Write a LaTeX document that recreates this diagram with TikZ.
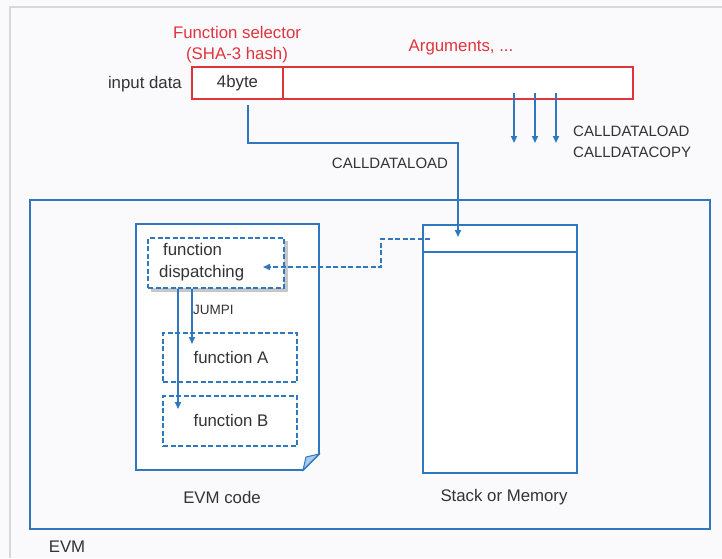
\documentclass[tikz,border=0pt]{standalone}
\usepackage{fontspec}
\setmainfont{Liberation Sans}
\usetikzlibrary{arrows.meta}
\definecolor{bg}{HTML}{FAFAFD}
\definecolor{frame}{HTML}{D8D8D8}
\definecolor{evmblue}{HTML}{2F78C0}
\definecolor{selred}{HTML}{E0343C}
\definecolor{txt}{HTML}{333333}
\definecolor{foldblue}{HTML}{A9CBEB}
\begin{document}
\begin{tikzpicture}[x=1pt,y=-1pt,
  lbl/.style={text=txt,font=\fontsize{16.8}{20}\selectfont,inner sep=0pt},
  caps/.style={text=txt,font=\fontsize{15}{18}\selectfont,inner sep=0pt},
  redlbl/.style={text=selred,font=\fontsize{16.8}{20}\selectfont,inner sep=0pt},
  redbox/.style={draw=selred,line width=1.8pt,fill=white,inner sep=0pt},
  bluebox/.style={draw=evmblue,line width=1.8pt,inner sep=0pt},
  dashbox/.style={draw=evmblue,line width=1.6pt,dash pattern=on 5pt off 2.5pt,fill=white,inner sep=0pt},
  wire/.style={draw=evmblue,line width=1.6pt},
  tip/.style={-{Triangle[length=7pt,width=6pt]}}
]
% page and its grey frame
\useasboundingbox (0,0) rectangle (722,558);
\fill[bg] (0,0) rectangle (722,558);
\draw[frame,line width=2pt] (10,558) -- (10,6.5) -- (722,6.5);

% input data row
\node[lbl,anchor=east] (inlbl) at (182,84) {input data};
\node[redbox,minimum width=350pt,minimum height=32pt] (args) at (458,83) {};
\node[redbox,minimum width=91pt,minimum height=32pt] (sel) at (237.5,83) {};
\node[lbl] (fourbyte) at (sel.center) {4byte};
\node[redlbl] (selname) at (237,32) {Function selector};
\node[redlbl] (selhash) at (237,55) {(SHA-3 hash)};
\node[redlbl] (argname) at (461,47) {Arguments, ...};

% loading the arguments
\foreach \i/\x in {1/514,2/535,3/556}{
  \coordinate (ld\i) at (\x,93);
  \coordinate (le\i) at (\x,143);
  \draw[wire,tip] (ld\i) -- (le\i);
}
\node[caps,anchor=west,align=left] (cdlbl) at (573,142) {CALLDATALOAD\\[3pt]CALLDATACOPY};

% EVM frame
\node[bluebox,minimum width=680pt,minimum height=329pt] (evm) at (370,364.5) {};
\node[lbl] (evmlbl) at (67,547) {EVM};

% EVM code sheet with folded corner
\draw[bluebox,fill=white] (136,224) -- (319,224) -- (319,454) -- (303,470) -- (136,470) -- cycle;
\fill[foldblue,draw=evmblue,line width=1pt] (303,470) -- (306,457) -- (319,454) -- cycle;
\node[lbl] (codelbl) at (222,497) {EVM code};

% stack or memory
\node[bluebox,fill=white,minimum width=154pt,minimum height=248pt] (stack) at (500,349) {};
\draw[evmblue,line width=1.6pt] (stack.west |- 0,252) coordinate (sd1) -- (stack.east |- 0,252) coordinate (sd2);
\node[lbl] (stacklbl) at (504,497) {Stack or Memory};

% functions inside the code
\fill[black!22] (151,241) rectangle (287.5,291.5);
\node[dashbox,minimum width=136pt,minimum height=50pt] (disp) at (216,263) {};
\node[lbl,anchor=west] (disp1) at (163,249) {function};
\node[lbl,anchor=west] (disp2) at (159,273) {dispatching};
\node[dashbox,minimum width=134pt,minimum height=49pt] (fa) at (230,357.5) {};
\node[lbl] (fatxt) at (231,357) {function A};
\node[dashbox,minimum width=134pt,minimum height=50pt] (fb) at (230,421) {};
\node[lbl] (fbtxt) at (231,420) {function B};

% jumps from the dispatcher
\draw[wire,tip] (disp.south -| 192,0) -- (192,344);
\draw[wire,tip] (disp.south -| 178,0) -- (178,409);
\node[caps,font=\fontsize{13.5}{16}\selectfont,anchor=west] (jumpi) at (193,310) {JUMPI};

% selector into the stack
\coordinate (s0) at (248,105);
\coordinate (s1) at (458,237);
\draw[wire,tip] (s0) -- (248,143) -| (s1);
\node[caps] (cdl) at (390,163) {CALLDATALOAD};

% stack value back to the dispatcher
\coordinate (r0) at (430,239);
\coordinate (r1) at (263,267);
\draw[wire,dash pattern=on 5pt off 2.5pt,tip] (r0) -- (381,239) |- (r1);
\end{tikzpicture}
\end{document}
